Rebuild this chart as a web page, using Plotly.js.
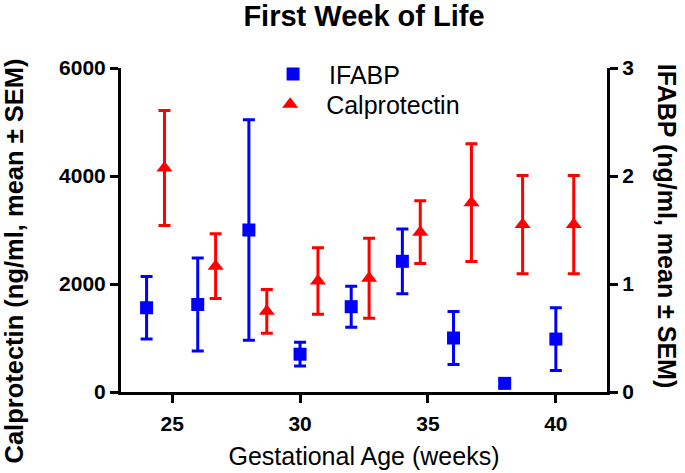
<!DOCTYPE html>
<html>
<head>
<meta charset="utf-8">
<script src="https://cdn.plot.ly/plotly-3.0.1.min.js"></script>
<style>html,body{margin:0;padding:0;background:#fff;}#chart{width:685px;height:473px;}</style>
</head>
<body>
<div id="chart"></div>
<script>
// Gestational age (weeks)
var ifabpWeeks = [24, 26, 28, 30, 32, 34, 36, 38, 40];
var ifabpMean  = [0.78, 0.81, 1.50, 0.35, 0.79, 1.21, 0.50, 0.08, 0.49];
var ifabpSem   = [0.29, 0.43, 1.02, 0.11, 0.19, 0.30, 0.245, 0.03, 0.29];

var calWeeks = [24.7, 26.7, 28.7, 30.7, 32.7, 34.7, 36.7, 38.7, 40.7];
var calMean  = [4150, 2330, 1495, 2055, 2105, 2960, 3505, 3100, 3100];
var calSem   = [1065, 600, 405, 615, 740, 580, 1090, 910, 910];

var xTicks = [25, 30, 35, 40];
var yLeftTicks = [0, 2000, 4000, 6000];
var yRightTicks = [0, 1, 2, 3];

var FONT = 'Liberation Sans, Arial, Helvetica, sans-serif';

var traces = [
  {
    name: 'IFABP', x: ifabpWeeks, y: ifabpMean, yaxis: 'y2', legend: 'legend',
    type: 'scatter', mode: 'markers',
    marker: {symbol: 'square', size: 13, color: '#0000ff'},
    error_y: {type: 'data', array: ifabpSem, visible: true, color: '#0000ff', thickness: 3, width: 6}
  },
  {
    name: 'Calprotectin', x: calWeeks, y: calMean, yaxis: 'y', legend: 'legend2',
    type: 'scatter', mode: 'markers',
    marker: {symbol: 'triangle-up', size: 14, color: '#ff0000'},
    error_y: {type: 'data', array: calSem, visible: true, color: '#ff0000', thickness: 3, width: 6}
  }
];

var legendBase = {
  xanchor: 'left', yanchor: 'top',
  font: {family: FONT, size: 25, color: '#000'},
  bgcolor: 'rgba(0,0,0,0)', borderwidth: 0, itemwidth: 62
};

var layout = {
  width: 685, height: 473,
  margin: {l: 121, r: 78, t: 68, b: 81, pad: 0},
  paper_bgcolor: '#fff', plot_bgcolor: '#fff',
  font: {family: FONT, color: '#000'},
  showlegend: true,
  title: {
    text: '<b>First Week of Life</b>',
    font: {family: FONT, size: 29, color: '#000'},
    x: 0.5, xref: 'paper', xanchor: 'center',
    y: 0.988, yref: 'container', yanchor: 'top'
  },
  legend: Object.assign({}, legendBase, {x: 0.280, y: 1.052}),
  legend2: Object.assign({}, legendBase, {x: 0.274, y: 0.958}),
  xaxis: {
    range: [23, 42], tickvals: xTicks, ticktext: xTicks.map(String),
    showline: true, linewidth: 3, linecolor: '#000',
    ticks: 'outside', ticklen: 8, tickwidth: 3, tickcolor: '#000',
    ticklabelstandoff: 3,
    showgrid: false, zeroline: false,
    tickfont: {family: FONT, size: 21, weight: 'bold', color: '#000'},
    title: {text: 'Gestational Age (weeks)', font: {family: FONT, size: 25, color: '#000'}, standoff: 14}
  },
  yaxis: {
    range: [0, 6000], tickvals: yLeftTicks, ticktext: yLeftTicks.map(String),
    showline: true, linewidth: 3, linecolor: '#000',
    ticks: 'outside', ticklen: 8, tickwidth: 3, tickcolor: '#000',
    showgrid: false, zeroline: false,
    tickfont: {family: FONT, size: 21, weight: 'bold', color: '#000'}
  },
  yaxis2: {
    range: [0, 3], tickvals: yRightTicks, ticktext: yRightTicks.map(String),
    overlaying: 'y', side: 'right',
    showline: true, linewidth: 3, linecolor: '#000',
    ticks: 'outside', ticklen: 8, tickwidth: 3, tickcolor: '#000',
    showgrid: false, zeroline: false,
    tickfont: {family: FONT, size: 21, weight: 'bold', color: '#000'}
  },
  annotations: [
    {
      text: '<b>Calprotectin (ng/ml, mean ± SEM)</b>', textangle: -90,
      xref: 'paper', yref: 'paper', x: -0.220, y: 0.403,
      xanchor: 'center', yanchor: 'middle', showarrow: false,
      font: {family: FONT, size: 25.5, color: '#000'}
    },
    {
      text: '<b>IFABP (ng/ml, mean ± SEM)</b>', textangle: 90,
      xref: 'paper', yref: 'paper', x: 1.124, y: 0.512,
      xanchor: 'center', yanchor: 'middle', showarrow: false,
      font: {family: FONT, size: 25, color: '#000'}
    }
  ]
};

Plotly.newPlot('chart', traces, layout, {displayModeBar: false, staticPlot: true});
</script>
</body>
</html>
